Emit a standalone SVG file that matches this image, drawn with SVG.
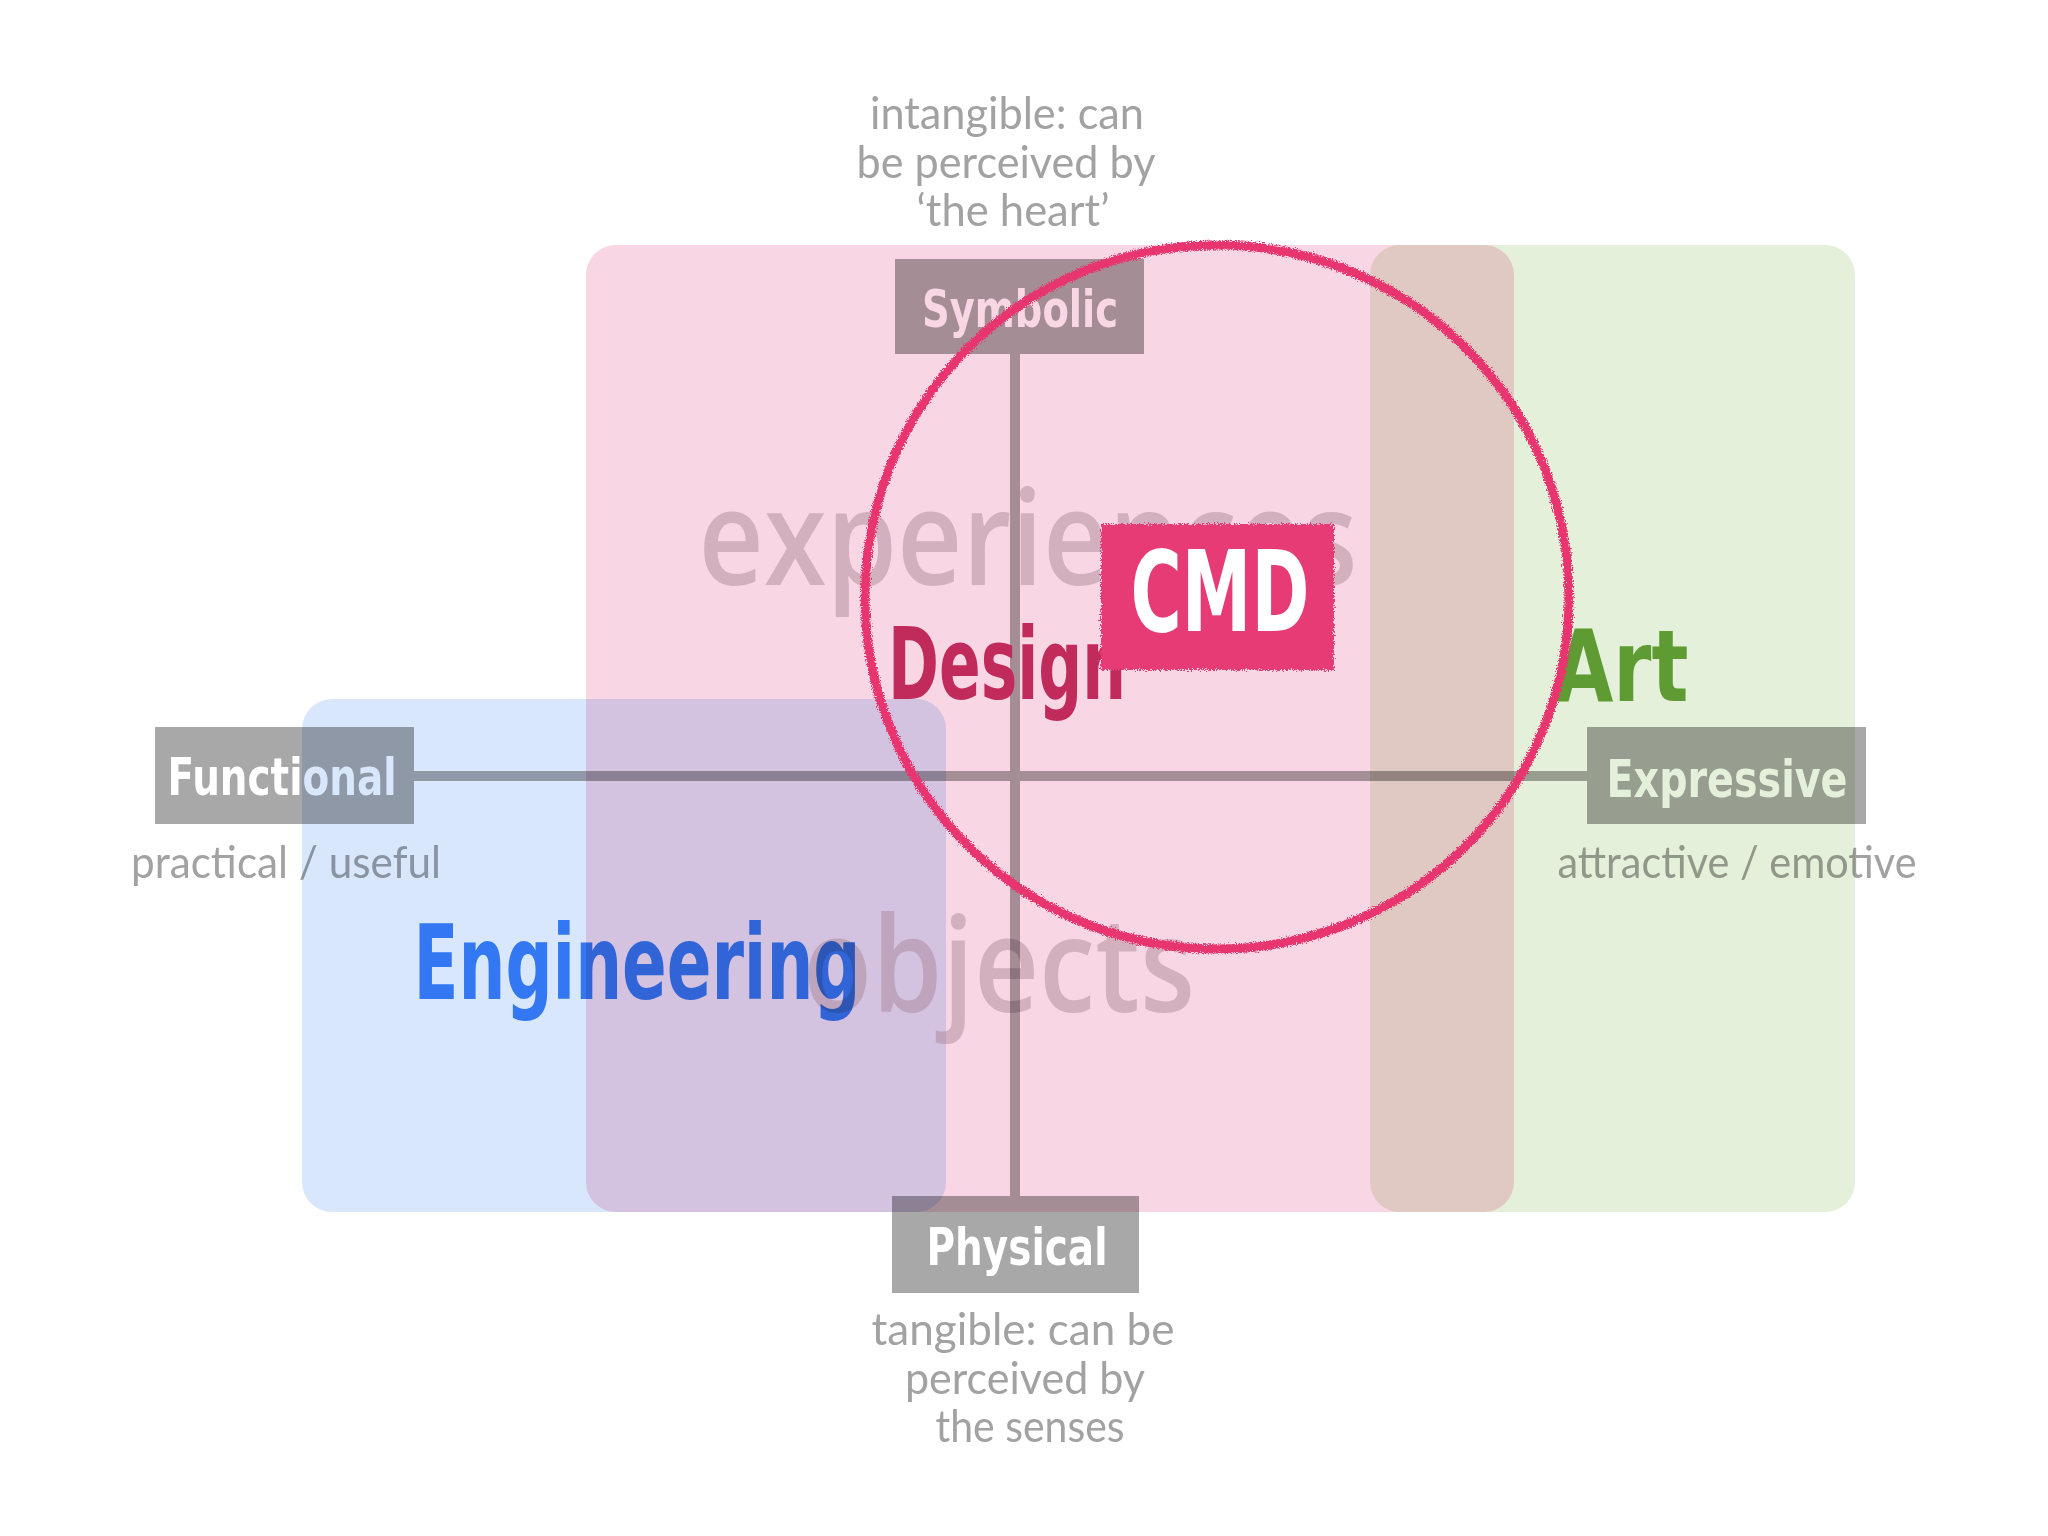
<svg xmlns="http://www.w3.org/2000/svg" width="2048" height="1536" viewBox="0 0 2048 1536">
<defs>
<filter id="rough" x="-10%" y="-10%" width="120%" height="120%">
<feTurbulence type="fractalNoise" baseFrequency="0.8" numOctaves="2" seed="4" result="n"/>
<feDisplacementMap in="SourceGraphic" in2="n" scale="7" xChannelSelector="R" yChannelSelector="G"/>
</filter>
<filter id="roughbox" x="-5%" y="-5%" width="110%" height="110%">
<feTurbulence type="fractalNoise" baseFrequency="0.7" numOctaves="2" seed="9" result="n"/>
<feDisplacementMap in="SourceGraphic" in2="n" scale="8" xChannelSelector="R" yChannelSelector="G"/>
</filter>
</defs>
<style>
.region{mix-blend-mode:multiply}
.mult{mix-blend-mode:multiply}
.box{fill:#a8a8a8}
.lbl{font-family:"DejaVu Sans","Liberation Sans",sans-serif;font-weight:bold;font-size:52px;fill:#ffffff;text-anchor:middle}
.note{font-family:Lato,"Open Sans",sans-serif;font-size:44px;fill:#a2a2a2;text-anchor:middle;mix-blend-mode:multiply}
.big{font-family:"Open Sans",Lato,sans-serif;font-weight:600;font-size:132px;fill:#a07c8a;opacity:0.42;text-anchor:middle}
.hand{font-family:"DejaVu Sans",sans-serif;font-weight:bold;text-anchor:middle}
.axis{stroke:#a8a8a8;stroke-width:10;fill:none}
</style>
<rect width="2048" height="1536" fill="#ffffff"/>

<g id="region-engineering" class="region"><rect x="302" y="699" width="644" height="513" rx="30" fill="#d9e7fd"/></g>
<g id="region-experiences" class="region"><rect x="586" y="245" width="928" height="967" rx="30" fill="#f9d6e3"/></g>
<g id="region-art" class="region"><rect x="1370" y="245" width="485" height="967" rx="30" fill="#e5f0da"/></g>

<g id="bg-words">
<text class="big" x="1028" y="585" textLength="659" lengthAdjust="spacingAndGlyphs">experiences</text>
<text class="big" x="999" y="1012" textLength="392" lengthAdjust="spacingAndGlyphs">objects</text>
</g>

<g id="connectors" class="mult">
<line class="axis" x1="1015" y1="354" x2="1015" y2="1196"/>
<line class="axis" x1="414" y1="776" x2="1587" y2="776"/>
</g>

<g id="label-symbolic" class="mult">
<rect class="box" x="895" y="259" width="249" height="95"/>
<text class="lbl" x="1020" y="327" textLength="196" lengthAdjust="spacingAndGlyphs">Symbolic</text>
</g>
<g id="label-functional" class="mult">
<rect class="box" x="155" y="727" width="259" height="97"/>
<text class="lbl" x="282" y="795" textLength="229" lengthAdjust="spacingAndGlyphs">Functional</text>
</g>
<g id="label-expressive" class="mult">
<rect class="box" x="1587" y="727" width="279" height="97"/>
<text class="lbl" x="1727" y="797" textLength="241" lengthAdjust="spacingAndGlyphs">Expressive</text>
</g>
<g id="label-physical" class="mult">
<rect class="box" x="892" y="1196" width="247" height="97"/>
<text class="lbl" x="1017" y="1265" textLength="181" lengthAdjust="spacingAndGlyphs">Physical</text>
</g>

<g id="notes">
<text class="note" x="1007" y="129" textLength="274" lengthAdjust="spacingAndGlyphs">intangible: can</text>
<text class="note" x="1006" y="178" textLength="299" lengthAdjust="spacingAndGlyphs">be perceived by</text>
<text class="note" x="1013" y="226" textLength="193" lengthAdjust="spacingAndGlyphs">‘the heart’</text>
<text class="note" x="286" y="878" textLength="310" lengthAdjust="spacingAndGlyphs">practical / useful</text>
<text class="note" x="1737" y="878" textLength="359" lengthAdjust="spacingAndGlyphs">attractive / emotive</text>
<text class="note" x="1023" y="1345" textLength="303" lengthAdjust="spacingAndGlyphs">tangible: can be</text>
<text class="note" x="1025" y="1394" textLength="240" lengthAdjust="spacingAndGlyphs">perceived by</text>
<text class="note" x="1030" y="1442" textLength="189" lengthAdjust="spacingAndGlyphs">the senses</text>
</g>

<g id="discipline-engineering" class="mult">
<text class="hand" x="637" y="999" font-size="104" fill="#3b84f4" textLength="447" lengthAdjust="spacingAndGlyphs">Engineering</text>
</g>
<g id="discipline-design">
<text class="hand" x="1007" y="699" font-size="100" fill="#c12b5c" textLength="238" lengthAdjust="spacingAndGlyphs">Design</text>
</g>
<g id="discipline-art">
<text class="hand" x="1621" y="701" font-size="100" fill="#5e9c33" textLength="135" lengthAdjust="spacingAndGlyphs">Art</text>
</g>

<g id="cmd">
<rect x="1101" y="524" width="233" height="146" fill="#e63b75" filter="url(#roughbox)"/>
<text class="hand" x="1220" y="631" font-size="112" fill="#ffffff" textLength="179" lengthAdjust="spacingAndGlyphs">CMD</text>
</g>

<g id="cmd-circle">
<circle cx="1217" cy="597" r="352" fill="none" stroke="#e8356f" stroke-width="9" filter="url(#rough)"/>
</g>
</svg>
